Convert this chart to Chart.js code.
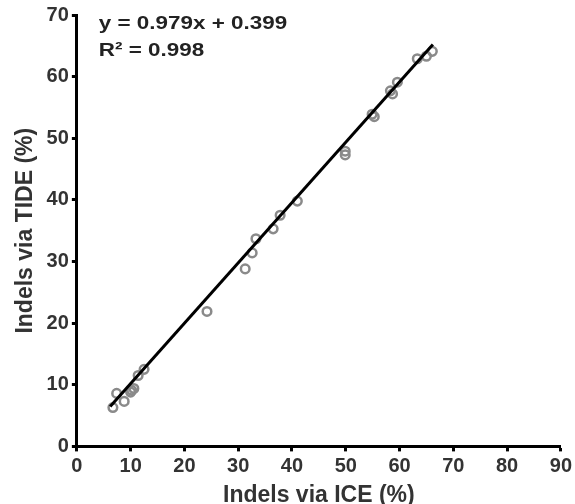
<!DOCTYPE html>
<html>
<head>
<meta charset="utf-8">
<script src="https://cdn.jsdelivr.net/npm/chart.js@4"></script>
<style>
  html, body { margin: 0; padding: 0; background: #fff; }
  #wrap { width: 575px; height: 504px; }
</style>
</head>
<body>
<div id="wrap"><canvas id="chart" width="575" height="504"></canvas></div>
<script>
// Values
const iceValues = [6.7, 7.4, 8.8, 10.0, 10.2, 10.6, 11.4, 12.5, 24.2, 31.3, 32.6, 33.3, 36.5, 37.8, 41.0, 49.9, 49.9, 54.9, 55.3, 58.3, 58.7, 59.6, 63.3, 65.0, 66.1];
const tideValues = [6.3, 8.6, 7.3, 8.8, 9.1, 9.4, 11.5, 12.5, 21.9, 28.8, 31.4, 33.7, 35.3, 37.5, 39.8, 47.9, 47.3, 53.9, 53.5, 57.7, 57.2, 59.1, 62.9, 63.3, 64.1];
const fitSlope = 0.979;
const fitIntercept = 0.399;
const fitRange = [6.2, 66.2];
const fitLabels = ["y = 0.979x + 0.399", "R\u00b2 = 0.998"];
const xTicks = [0, 10, 20, 30, 40, 50, 60, 70, 80, 90];
const yTicks = [0, 10, 20, 30, 40, 50, 60, 70];

const points = iceValues.map((x, i) => ({ x, y: tideValues[i] }));
const fitLine = fitRange.map(x => ({ x, y: fitSlope * x + fitIntercept }));

// Writes the regression equation in the top-left corner of the plot area.
// The original lettering is a bit wide, so the text is stretched sideways.
const equationPlugin = {
  id: "equation",
  afterDraw(chart) {
    const { ctx, chartArea } = chart;
    ctx.save();
    ctx.fillStyle = "#222";
    ctx.font = "bold 19px 'Liberation Sans', Arial, sans-serif";
    ctx.textBaseline = "alphabetic";
    ctx.translate(chartArea.left + 22, chartArea.top);
    ctx.scale(1.18, 1);
    fitLabels.forEach((t, i) => {
      ctx.fillText(t, 0, 14 + i * 27);
    });
    ctx.restore();
  }
};

const tickFont = { family: "'Liberation Sans', Arial, sans-serif", size: 20, weight: "bold" };
const titleFont = { family: "'Liberation Sans', Arial, sans-serif", size: 23, weight: "bold" };

new Chart(document.getElementById("chart"), {
  type: "scatter",
  data: {
    datasets: [
      {
        data: points,
        pointStyle: "circle",
        pointRadius: 4.3,
        pointBorderWidth: 2.5,
        pointBackgroundColor: "rgba(255,255,255,0)",
        pointBorderColor: "#8a8a8a",
        order: 2
      },
      {
        type: "line",
        data: fitLine,
        borderColor: "#000",
        borderWidth: 3,
        pointRadius: 0,
        fill: false,
        order: 1
      }
    ]
  },
  options: {
    responsive: false,
    animation: false,
    layout: { padding: { top: 15, right: 4, left: 12, bottom: -5 } },
    plugins: {
      legend: { display: false },
      tooltip: { enabled: false }
    },
    scales: {
      x: {
        type: "linear",
        min: 0,
        max: 90,
        afterBuildTicks: axis => { axis.ticks = xTicks.map(v => ({ value: v })); },
        border: { color: "#000", width: 3 },
        grid: { drawOnChartArea: false, drawTicks: true, tickLength: 5, tickWidth: 3, color: "#000" },
        ticks: { color: "#333", font: tickFont, padding: 3, maxRotation: 0 },
        title: { display: true, text: "Indels via ICE (%)", color: "#333", font: titleFont, padding: { top: 0, bottom: 0 } }
      },
      y: {
        type: "linear",
        min: 0,
        max: 70,
        afterBuildTicks: axis => { axis.ticks = yTicks.map(v => ({ value: v })); },
        border: { color: "#000", width: 3 },
        grid: { drawOnChartArea: false, drawTicks: true, tickLength: 5, tickWidth: 3, color: "#000" },
        ticks: { color: "#333", font: tickFont, padding: 3 },
        title: { display: true, text: "Indels via TIDE (%)", color: "#333", font: titleFont, padding: { top: 0, bottom: 4 } }
      }
    }
  },
  plugins: [equationPlugin]
});
</script>
</body>
</html>
